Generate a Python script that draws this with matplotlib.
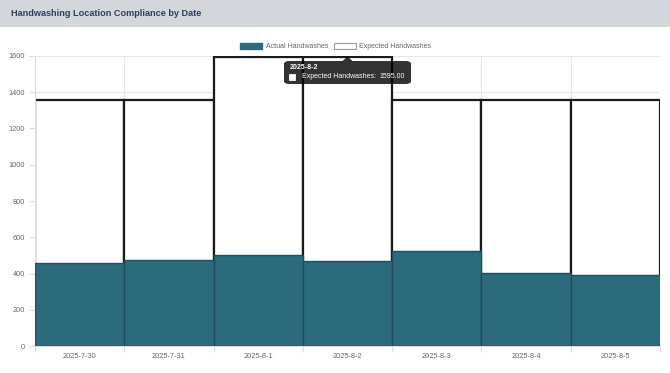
import matplotlib
matplotlib.use("Agg")
import matplotlib.pyplot as plt
from matplotlib.patches import Rectangle, FancyBboxPatch, Polygon
import numpy as np

plt.rcParams['font.family'] = ['Liberation Sans', 'DejaVu Sans']

dates = ["2025-7-30", "2025-7-31", "2025-8-1", "2025-8-2", "2025-8-3", "2025-8-4", "2025-8-5"]
actual = [457, 473, 504, 470, 526, 405, 394]
expected = [1355, 1355, 1595, 1595, 1355, 1355, 1355]
yticks = [0, 200, 400, 600, 800, 1000, 1200, 1400, 1600]
tooltip_idx = 3

W, H = 670, 373
fig = plt.figure(figsize=(W / 100, H / 100), dpi=100)
fig.patch.set_facecolor("white")

def fx(px):
    return px / W

def fy(py):
    return 1 - py / H

FS = 5.3
FS2 = 5.05

# header band
fig.patches.append(Rectangle((0, fy(26.5)), 1, 26.5 / H, transform=fig.transFigure,
                             facecolor="#d3d6db", edgecolor="none", zorder=0))
fig.text(fx(11), fy(13.5), "Handwashing Location Compliance by Date", fontsize=6.6,
         fontweight="bold", color="#2e3f5c", va="center", ha="left")

left, right, top, bottom = 35, 660, 55.7, 346.3
ax = fig.add_axes([fx(left), fy(bottom), fx(right) - fx(left), (bottom - top) / H])

x = np.arange(len(dates))
teal = "#2b6b7b"
b_exp = ax.bar(x, expected, width=1.0, facecolor="white", edgecolor="#1a1a1a",
               linewidth=1.6, zorder=2, label="Expected Handwashes")
b_act = ax.bar(x, actual, width=1.0, facecolor=teal, edgecolor="#1f4f5c",
               linewidth=1.0, zorder=3, label="Actual Handwashes")

ax.set_xlim(-0.5, len(dates) - 0.5)
ax.set_ylim(0, 1600)
ax.set_yticks(yticks)
ax.set_yticklabels([str(v) for v in yticks])
ax.set_xticks(x)
ax.set_xticklabels(dates)
ax.set_xticks(np.arange(len(dates) + 1) - 0.5, minor=True)

gridc = "#e6e6e6"
ax.grid(True, axis="y", color=gridc, linewidth=0.8, zorder=0)
ax.grid(True, axis="x", which="minor", color=gridc, linewidth=0.8, zorder=0)
ax.set_axisbelow(True)
for s in ["top", "right"]:
    ax.spines[s].set_visible(False)
for s in ["left", "bottom"]:
    ax.spines[s].set_color("#dcdcdc")
    ax.spines[s].set_linewidth(0.8)
ax.tick_params(axis="y", colors="#dcdcdc", labelcolor="#666666", labelsize=FS,
               length=4, width=0.8, pad=3)
ax.tick_params(axis="x", which="major", length=0, labelcolor="#666666",
               labelsize=FS, pad=5)
ax.tick_params(axis="x", which="minor", length=4, color="#dcdcdc", width=0.8)

leg_cx = (336 - left) / (right - left)
leg = ax.legend(handles=[b_act, b_exp], labels=["Actual Handwashes", "Expected Handwashes"],
                loc="center", bbox_to_anchor=(leg_cx, 1.031), ncol=2, frameon=False,
                fontsize=FS2, handlelength=3.1, handleheight=0.85, columnspacing=0.75,
                handletextpad=0.55, borderaxespad=0, borderpad=0)
for t in leg.get_texts():
    t.set_color("#666666")
leg.legend_handles[0].set_edgecolor(teal)
leg.legend_handles[1].set_edgecolor("#999999")
leg.legend_handles[1].set_linewidth(0.8)

# tooltip
bl, br, bt, bb = 284, 411, 61, 84
tip = FancyBboxPatch((fx(bl), fy(bb)), fx(br) - fx(bl), (bb - bt) / H,
                     boxstyle="round,pad=0,rounding_size=0.008",
                     transform=fig.transFigure, facecolor=(0, 0, 0, 0.8),
                     edgecolor="none", zorder=10)
fig.patches.append(tip)
ax_x = ax.transData.transform((tooltip_idx, expected[tooltip_idx]))
ax_px = fig.transFigure.inverted().transform(ax_x)
apx = ax_px[0]
tri = Polygon([(apx - fx(5), fy(bt)), (apx + fx(5), fy(bt)), (apx, fy(bt - 4.5))],
              closed=True, transform=fig.transFigure, facecolor=(0, 0, 0, 0.8),
              edgecolor="none", zorder=10)
fig.patches.append(tri)
fig.text(fx(290), fy(67.5), dates[tooltip_idx], fontsize=FS2, fontweight="bold",
         color="white", va="center", ha="left", zorder=11)
fig.patches.append(Rectangle((fx(289), fy(79.5)), 6 / W, 6 / H, transform=fig.transFigure,
                             facecolor="white", edgecolor="white", linewidth=0.6, zorder=11))
fig.text(fx(302), fy(77), "Expected Handwashes:", fontsize=FS2, color="white",
         va="center", ha="left", zorder=11)
fig.text(fx(405), fy(77), f"{expected[tooltip_idx]:.2f}", fontsize=FS2, color="white",
         va="center", ha="right", zorder=11)

fig.savefig("out.png", dpi=100)
